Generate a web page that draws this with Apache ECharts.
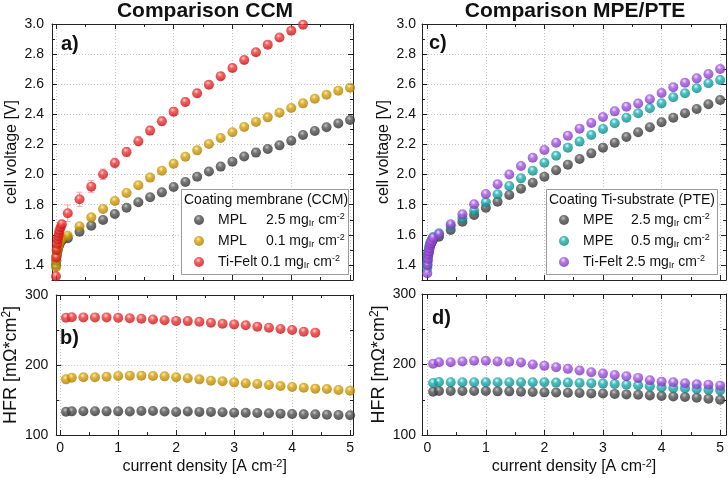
<!DOCTYPE html>
<html>
<head>
<meta charset="utf-8">
<script src="https://cdn.jsdelivr.net/npm/echarts@6/dist/echarts.min.js"></script>
<style>html,body{margin:0;padding:0;background:#fff}#c{width:728px;height:478px}</style>
</head>
<body>
<div id="c"></div>
<script>
// ---------- DATA ----------
const currentV = [0, 0.005, 0.01, 0.02, 0.03, 0.04, 0.05, 0.06, 0.08, 0.1, 0.2, 0.4, 0.6, 0.8, 1.0, 1.2, 1.4, 1.6, 1.8, 2.0, 2.2, 2.4, 2.6, 2.8, 3.0, 3.2, 3.4, 3.6, 3.8, 4.0, 4.2, 4.4, 4.6, 4.8, 5.0];
const currentH = [0.1, 0.2, 0.4, 0.6, 0.8, 1.0, 1.2, 1.4, 1.6, 1.8, 2.0, 2.2, 2.4, 2.6, 2.8, 3.0, 3.2, 3.4, 3.6, 3.8, 4.0, 4.2, 4.4, 4.6, 4.8, 5.0];

// panel a) CCM cell voltage [V]
const ccmMPL25V = [1.40, 1.43, 1.46, 1.48, 1.50, 1.52, 1.53, 1.54, 1.555, 1.565, 1.578, 1.62, 1.661, 1.699, 1.738, 1.78, 1.816, 1.849, 1.882, 1.918, 1.951, 1.986, 2.02, 2.053, 2.086, 2.12, 2.146, 2.17, 2.194, 2.225, 2.263, 2.29, 2.314, 2.34, 2.362];
const ccmMPL01V = [1.385, 1.43, 1.46, 1.49, 1.51, 1.525, 1.54, 1.55, 1.565, 1.575, 1.594, 1.657, 1.716, 1.772, 1.825, 1.878, 1.929, 1.98, 2.026, 2.072, 2.119, 2.161, 2.203, 2.243, 2.281, 2.316, 2.35, 2.38, 2.411, 2.442, 2.473, 2.504, 2.53, 2.557, 2.577];
const ccmFeltV  = [1.325, 1.45, 1.50, 1.54, 1.57, 1.59, 1.61, 1.63, 1.65, 1.67, 1.743, 1.836, 1.92, 2.002, 2.077, 2.15, 2.221, 2.292, 2.354, 2.418, 2.482, 2.54, 2.597, 2.653, 2.708, 2.761, 2.812, 2.863, 2.91, 2.956, 2.995];
const ccmFeltErr = [0.01, 0.012, 0.012, 0.015, 0.015, 0.015, 0.015, 0.018, 0.02, 0.025, 0.055, 0.047, 0.04, 0.035, 0.032, 0.03, 0.03, 0.028, 0.028, 0.027, 0.026, 0.025, 0.024, 0.024, 0.022, 0.022, 0.02, 0.02, 0.02, 0.02, 0.02];

// panel b) CCM HFR [mOhm*cm2]
const ccmMPL25H = [133.3, 133.8, 134, 134, 133.8, 133.8, 133.5, 134.3, 134.3, 133.5, 132.9, 133.5, 133, 133, 132.5, 131.9, 131.9, 131.5, 131, 130.5, 130, 129.5, 129.5, 129, 128.5, 128.1];
const ccmMPL01H = [179.5, 181.9, 182.4, 182.4, 183.3, 184.3, 184.8, 184.8, 184.3, 183.8, 182.4, 181, 179.5, 177.6, 176.7, 175.2, 173.8, 172.9, 171.4, 170, 168.6, 167.6, 166.2, 165.7, 164.3, 163.3];
const ccmFeltH  = [267.6, 268.1, 268, 268, 268, 267.5, 266.7, 266, 265, 264, 263, 262.7, 261.7, 260.3, 259, 258, 256.7, 254.8, 253.3, 251.4, 250, 247.6, 246.2];

// panel c) MPE/PTE cell voltage [V]
const pteMPE25V = [1.40, 1.43, 1.46, 1.48, 1.50, 1.52, 1.53, 1.54, 1.555, 1.57, 1.588, 1.632, 1.687, 1.732, 1.78, 1.82, 1.865, 1.906, 1.946, 1.986, 2.029, 2.066, 2.104, 2.141, 2.179, 2.212, 2.25, 2.281, 2.314, 2.347, 2.378, 2.407, 2.436, 2.467, 2.495];
const pteMPE05V = [1.38, 1.42, 1.46, 1.49, 1.51, 1.53, 1.545, 1.555, 1.57, 1.585, 1.61, 1.659, 1.71, 1.76, 1.816, 1.869, 1.924, 1.975, 2.026, 2.079, 2.125, 2.179, 2.219, 2.263, 2.303, 2.341, 2.378, 2.407, 2.44, 2.473, 2.513, 2.54, 2.573, 2.606, 2.628];
const pteFeltV  = [1.345, 1.40, 1.44, 1.47, 1.49, 1.51, 1.53, 1.545, 1.56, 1.58, 1.604, 1.67, 1.736, 1.803, 1.871, 1.936, 2.0, 2.057, 2.112, 2.163, 2.212, 2.258, 2.305, 2.343, 2.382, 2.42, 2.451, 2.472, 2.5, 2.542, 2.58, 2.61, 2.639, 2.668, 2.701];

// panel d) MPE/PTE HFR [mOhm*cm2]
const pteMPE25H = [161.4, 162.4, 162.4, 162.4, 162.4, 162.4, 161.9, 161.9, 161.4, 161, 160.5, 160.2, 160, 159.5, 159, 158.8, 158.3, 157.6, 157, 156.2, 155.2, 154.5, 153.8, 153, 151.4, 150];
const pteMPE05H = [173.8, 175.2, 174.8, 174.8, 174.8, 174.8, 174.8, 174.8, 174.8, 174.8, 174.8, 174.3, 174.3, 173.8, 173.3, 172.9, 172.4, 171.4, 170.5, 169, 167.6, 166.7, 166.2, 165.2, 164.3, 163.3];
const pteFeltH  = [201, 203.3, 203.3, 204.3, 205.2, 205.2, 204.3, 203.8, 202.9, 200, 198.1, 196.2, 193.8, 191.4, 189, 187.1, 185.2, 183.3, 181, 177.6, 175.7, 174.8, 173.3, 171.9, 171.4, 170];

// ticks
const xMajor = [0, 1, 2, 3, 4, 5];
const xMinor = [0.5, 1.5, 2.5, 3.5, 4.5];
const vMajor = [1.4, 1.6, 1.8, 2.0, 2.2, 2.4, 2.6, 2.8, 3.0];
const vMinor = [1.3, 1.5, 1.7, 1.9, 2.1, 2.3, 2.5, 2.7, 2.9];
const hMajor = [100, 200, 300];
const hMinor = [150, 250];

// legend names
const legendA = ['MPL 2.5', 'MPL 0.1', 'Ti-Felt 0.1'];
const legendC = ['MPE 2.5', 'MPE 0.5', 'Ti-Felt 2.5'];

// ---------- STYLE ----------
const FONT = '"Liberation Sans", Arial, sans-serif';
const INK = '#111';
function ball(hi, mid, dark) {
  return {type: 'radial', x: 0.42, y: 0.32, r: 0.7,
    colorStops: [{offset: 0, color: hi}, {offset: 0.35, color: mid}, {offset: 1, color: dark}]};
}
const C_BLACK = ball('#b5b5b5', '#555', '#2a2a2a');
const C_GOLD = ball('#ffe89a', '#d6a20a', '#a87800');
const C_RED = ball('#ffd0d0', '#f03a3a', '#c01010');
const C_TEAL = ball('#c8ffff', '#1fb0b0', '#0a7f80');
const C_PURP = ball('#f3dcff', '#a45ae0', '#7a2eb8');

const grids = [
  {left: 52, top: 24, width: 301, height: 256},
  {left: 52, top: 295, width: 301, height: 140},
  {left: 422, top: 24, width: 304, height: 256},
  {left: 422, top: 294, width: 304, height: 141}
];

const xAxes = [], yAxes = [];
const lineStyle = {color: '#222', width: 1};
function addAxes(list, dim, gi, min, max, majors, minors, cfg) {
  const sides = dim === 'x' ? ['bottom', 'top'] : ['left', 'right'];
  const mainIdx = list.length;
  const fs = cfg.nameSize || 16;
  sides.forEach((pos, k) => {
    const main = k === 0;
    list.push({
      type: 'value', gridIndex: gi, min: min, max: max, position: pos,
      axisLine: {show: true, onZero: false, lineStyle: lineStyle},
      axisTick: {show: true, inside: true, length: 5, customValues: majors, lineStyle: lineStyle},
      axisLabel: {show: main && cfg.labels, customValues: majors, fontSize: 14, color: INK, fontFamily: FONT,
        margin: cfg.margin || 6, formatter: cfg.fmt},
      splitLine: {show: main, lineStyle: {color: '#c4c4c4', type: [1, 2], width: 1}},
      name: main ? cfg.name : '', nameLocation: 'middle', nameGap: cfg.nameGap, nameRotate: dim === 'y' ? 90 : 0,
      nameTextStyle: {fontSize: fs, color: INK, fontFamily: FONT, lineHeight: fs + 2,
        rich: {sup: {fontSize: Math.round(fs * 0.66), lineHeight: Math.round(fs * 0.66), verticalAlign: 'top', color: INK, fontFamily: FONT}}},
      z: 3
    });
    list.push({
      type: 'value', gridIndex: gi, min: min, max: max, position: pos,
      axisLine: {show: false, onZero: false},
      axisTick: {show: true, inside: true, length: 3, customValues: minors, lineStyle: lineStyle},
      axisLabel: {show: false, customValues: minors},
      splitLine: {show: false},
      z: 3
    });
  });
  return mainIdx;
}
const fx0 = v => String(Math.round(v));
const fv = v => v.toFixed(1);
const xA = addAxes(xAxes, 'x', 0, -0.068, 5.05, xMajor, xMinor, {labels: false});
const xB = addAxes(xAxes, 'x', 1, -0.068, 5.05, xMajor, xMinor, {labels: true, fmt: fx0, margin: 6,
  name: 'current density [A cm{sup|-2}]', nameGap: 23, nameSize: 16});
const xC = addAxes(xAxes, 'x', 2, -0.09, 5.1, xMajor, xMinor, {labels: false});
const xD = addAxes(xAxes, 'x', 3, -0.09, 5.1, xMajor, xMinor, {labels: true, fmt: fx0, margin: 6,
  name: 'current density [A cm{sup|-2}]', nameGap: 23, nameSize: 16});
const yA = addAxes(yAxes, 'y', 0, 1.3, 3.0, vMajor, vMinor, {labels: true, fmt: fv, margin: 8,
  name: 'cell voltage [V]', nameGap: 30, nameSize: 16});
const yB = addAxes(yAxes, 'y', 1, 100, 300, hMajor, hMinor, {labels: true, fmt: fx0, margin: 8,
  name: 'HFR [mΩ*cm{sup|2}]', nameGap: 31, nameSize: 18});
const yC = addAxes(yAxes, 'y', 2, 1.3, 3.0, vMajor, vMinor, {labels: true, fmt: fv, margin: 6,
  name: 'cell voltage [V]', nameGap: 27, nameSize: 16});
const yD = addAxes(yAxes, 'y', 3, 100, 300, hMajor, hMinor, {labels: true, fmt: fx0, margin: 6,
  name: 'HFR [mΩ*cm{sup|2}]', nameGap: 29, nameSize: 18});

function pairs(xs, ys) { return ys.map((y, i) => [xs[i], y]); }
function sc(name, xi, yi, xs, ys, color) {
  return {type: 'scatter', name: name, xAxisIndex: xi, yAxisIndex: yi, data: pairs(xs, ys),
    symbol: 'circle', symbolSize: 10, itemStyle: {color: color}, emphasis: {disabled: true}, z: 4, clip: true};
}

const errData = ccmFeltV.map((y, i) => [currentV[i], y, ccmFeltErr[i]]);
const errSeries = {
  type: 'custom', xAxisIndex: xA, yAxisIndex: yA, data: errData, z: 3, clip: true, silent: true,
  renderItem: function (params, api) {
    const x = api.value(0), y = api.value(1), e = api.value(2);
    const t = api.coord([x, y + e]), b = api.coord([x, y - e]);
    const st = {stroke: '#f4a9a9', lineWidth: 1};
    return {type: 'group', children: [
      {type: 'line', shape: {x1: t[0], y1: t[1], x2: b[0], y2: b[1]}, style: st},
      {type: 'line', shape: {x1: t[0] - 3, y1: t[1], x2: t[0] + 3, y2: t[1]}, style: st},
      {type: 'line', shape: {x1: b[0] - 3, y1: b[1], x2: b[0] + 3, y2: b[1]}, style: st}
    ]};
  }
};

const series = [
  sc('MPL 2.5', xA, yA, currentV, ccmMPL25V, C_BLACK),
  sc('MPL 0.1', xA, yA, currentV, ccmMPL01V, C_GOLD),
  errSeries,
  sc('Ti-Felt 0.1', xA, yA, currentV, ccmFeltV, C_RED),
  sc('MPL 2.5', xB, yB, currentH, ccmMPL25H, C_BLACK),
  sc('MPL 0.1', xB, yB, currentH, ccmMPL01H, C_GOLD),
  sc('Ti-Felt 0.1', xB, yB, currentH, ccmFeltH, C_RED),
  sc('MPE 2.5', xC, yC, currentV, pteMPE25V, C_BLACK),
  sc('MPE 0.5', xC, yC, currentV, pteMPE05V, C_TEAL),
  sc('Ti-Felt 2.5', xC, yC, currentV, pteFeltV, C_PURP),
  sc('MPE 2.5', xD, yD, currentH, pteMPE25H, C_BLACK),
  sc('MPE 0.5', xD, yD, currentH, pteMPE05H, C_TEAL),
  sc('Ti-Felt 2.5', xD, yD, currentH, pteFeltH, C_PURP)
];

const legendRich = {
  n: {width: 48, fontSize: 14, lineHeight: 16, fontFamily: FONT, color: INK},
  v: {fontSize: 14, lineHeight: 16, fontFamily: FONT, color: INK},
  sub: {fontSize: 9, lineHeight: 9, verticalAlign: 'bottom', fontFamily: FONT, color: INK},
  sup: {fontSize: 9, lineHeight: 9, verticalAlign: 'top', fontFamily: FONT, color: INK}
};
function legendFmt(name) {
  const parts = name.split(' ');
  const head = parts[0] === 'Ti-Felt' ? '{v|Ti-Felt }' : '{n|' + parts[0] + '}';
  return head + '{v|' + parts[1] + ' mg}{sub|Ir}{v| cm}{sup|-2}';
}
function mkLegend(data, left) {
  return {data: data, left: left, top: 212, orient: 'vertical', itemWidth: 28, itemHeight: 10, itemGap: 5,
    padding: 0, icon: 'circle', selectedMode: false, z: 10, formatter: legendFmt,
    textStyle: {fontSize: 14, lineHeight: 16, color: INK, fontFamily: FONT, rich: legendRich}};
}

function txt(text, x, y, size, bold, align) {
  return {type: 'text', z: 20, x: x, y: y, style: {text: text, fontSize: size, fontWeight: bold ? 'bold' : 'normal',
    fontFamily: FONT, fill: INK, align: align || 'left', verticalAlign: 'middle'}};
}

const option = {
  animation: false,
  backgroundColor: '#fff',
  grid: grids,
  xAxis: xAxes,
  yAxis: yAxes,
  legend: [mkLegend(legendA, 194), mkLegend(legendC, 559)],
  graphic: [
    {type: 'rect', z: 8, shape: {x: 181.5, y: 189.5, width: 167, height: 85}, style: {fill: '#fff', stroke: '#9a9a9a', lineWidth: 1}},
    {type: 'rect', z: 8, shape: {x: 546.5, y: 189.5, width: 171, height: 85}, style: {fill: '#fff', stroke: '#9a9a9a', lineWidth: 1}},
    txt('Coating membrane (CCM)', 184, 200, 14, false),
    txt('Coating Ti-substrate (PTE)', 549, 200, 14, false),
    txt('Comparison CCM', 205, 11, 21, true, 'center'),
    txt('Comparison MPE/PTE', 575, 11, 21, true, 'center'),
    txt('a)', 61, 44, 20, true),
    txt('b)', 60, 338, 20, true),
    txt('c)', 429, 43, 20, true),
    txt('d)', 432, 318, 20, true)
  ],
  series: series
};
const chart = echarts.init(document.getElementById('c'), null, {renderer: 'canvas'});
chart.setOption(option);
</script>
</body>
</html>
